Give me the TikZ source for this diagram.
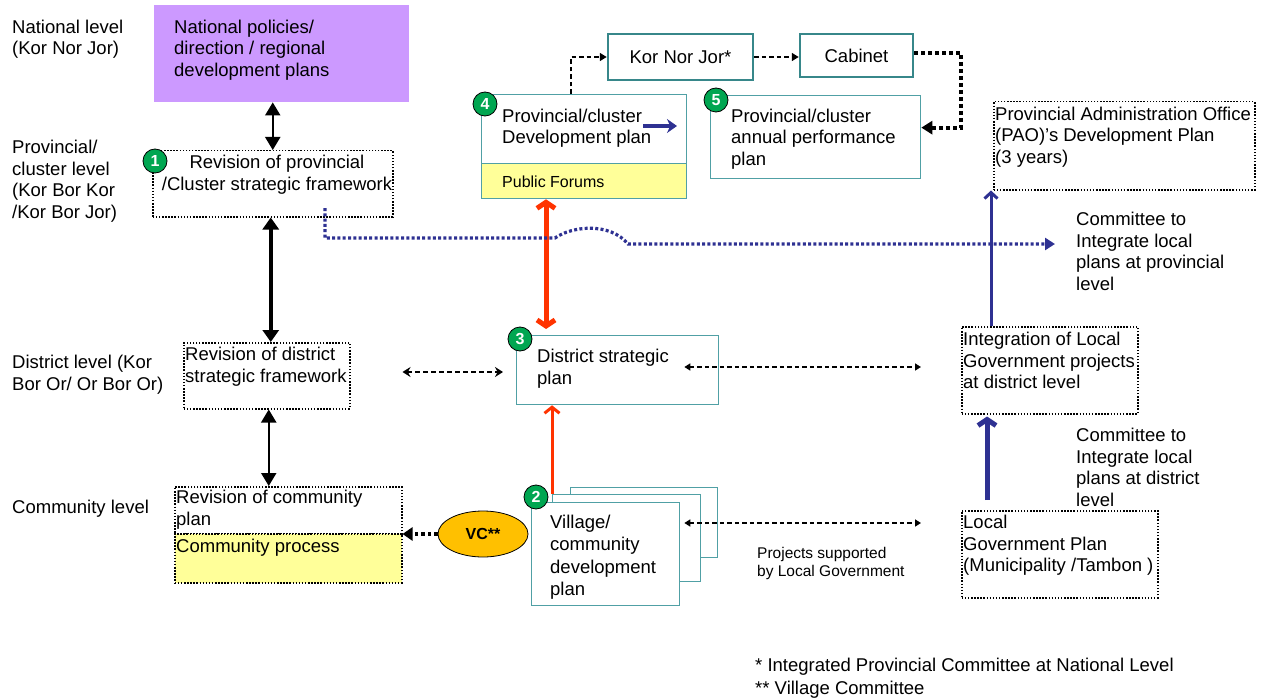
\documentclass[tikz,border=0pt]{standalone}
\usepackage{fontspec}
\setmainfont{Liberation Sans}
\usetikzlibrary{arrows.meta,shapes.geometric}
\definecolor{tealb}{RGB}{80,160,165}
\definecolor{tealdk}{RGB}{55,135,138}
\definecolor{navyb}{RGB}{46,49,146}
\definecolor{redo}{RGB}{255,51,0}
\definecolor{purp}{RGB}{204,153,255}
\definecolor{yel}{RGB}{255,255,153}
\definecolor{vcorange}{RGB}{255,192,0}
\definecolor{badgeg}{RGB}{0,166,81}
\begin{document}
\begin{tikzpicture}[x=1pt,y=-1pt,
 txt/.style={font=\fontsize{18.5}{21.5}\selectfont, inner sep=0pt, align=left, anchor=base west},
 smalltxt/.style={font=\fontsize{15.5}{18}\selectfont, inner sep=0pt, align=left, anchor=base west},
 dotbox/.style={draw=black, line width=1.5pt, dash pattern=on 1.5pt off 1.6pt, rectangle, inner sep=0pt, anchor=north west},
 tealbox/.style={draw=tealb, line width=1.3pt, rectangle, inner sep=0pt, anchor=north west},
 tealthick/.style={draw=tealdk, line width=2.5pt, rectangle, inner sep=0pt, font=\fontsize{18.5}{21.5}\selectfont},
 badge/.style={circle, fill=badgeg, draw=black, line width=0.8pt, minimum size=24pt, inner sep=0pt, text=white, font=\fontsize{16}{16}\selectfont\bfseries},
 blkdbl/.style={{Triangle[length=13pt,width=15pt]}-{Triangle[length=13pt,width=15pt]}, line width=2pt},
 dasharr/.style={{Stealth[length=8pt,width=10pt]}-{Stealth[length=8pt,width=10pt]}, line width=1.8pt, dash pattern=on 5pt off 3pt},
 dashthin/.style={{Triangle[length=6pt,width=7pt]}-{Triangle[length=6pt,width=7pt]}, line width=1.5pt, dash pattern=on 4.5pt off 3pt},
 dashone/.style={-{Triangle[length=7pt,width=8pt]}, line width=1.5pt, dash pattern=on 4.5pt off 3pt},
 redarr/.style={draw=redo, line width=3pt},
 bluedot/.style={draw=navyb, line width=3.2pt, dash pattern=on 3pt off 2.3pt, -{Triangle[length=10pt,width=12pt]}},
]
\useasboundingbox (0,0) rectangle (1264,698);

% level labels (anchor = baseline of last line)
\node[txt] (lnat) at (12,55) {National level\\(Kor Nor Jor)};
\node[txt] (lprov) at (12,218) {Provincial/\\cluster level\\(Kor Bor Kor\\/Kor Bor Jor)};
\node[txt] (ldist) at (12,390) {District level (Kor\\Bor Or/ Or Bor Or)};
\node[txt] (lcom) at (12,513.5) {Community level};

% national box
\node[rectangle, fill=purp, inner sep=0pt, anchor=north west, minimum width=255pt, minimum height=97pt] (nat) at (154,5) {};
\node[txt] (natt) at (174,76.5) {National policies/\\direction / regional\\development plans};

% provincial revision
\node[dotbox, minimum width=240pt, minimum height=66pt] (revprov) at (152,150) {};
\node[txt, align=center, anchor=base] (revprovt) at (277,190) {Revision of provincial\\/Cluster strategic framework};
\node[badge] (b1) at (155,161) {1};

% district revision
\node[dotbox, minimum width=166pt, minimum height=66pt] (revdist) at (183,342) {};
\node[txt] (revdistt) at (185,382) {Revision of district\\strategic framework};

% community revision
\node[dotbox, minimum width=227pt, minimum height=47pt] (revcom) at (174,486) {};
\node[dotbox, fill=yel, minimum width=227pt, minimum height=49pt] (revcomb) at (174,533) {};
\node[txt] (revcomt) at (176,525) {Revision of community\\plan};
\node[txt] (revcombt) at (176,552.5) {Community process};

% vertical black arrows
\draw[blkdbl] (nat.south -| revprov.north) -- (revprov.north);
\draw[{Triangle[length=12pt,width=16pt]}-{Triangle[length=12pt,width=16pt]}, line width=4.5pt] ([xshift=-2pt]revprov.south) -- ([xshift=-2pt]revprov.south |- revdist.north);
\draw[blkdbl] ([xshift=2pt]revdist.south) -- ([xshift=2pt]revdist.south |- revcom.north);

% VC
\node[ellipse, draw=black, line width=0.8pt, fill=vcorange, minimum width=90pt, minimum height=46pt, inner sep=0pt, font=\fontsize{16}{16}\selectfont\bfseries] (vc) at (483,534) {VC**};
\draw[line width=3.5pt, dash pattern=on 3.5pt off 3pt, -{Triangle[length=10pt,width=13pt]}] (vc.west) -- (vc.west -| revcomb.east);

% village stack
\node[tealbox, fill=white, minimum width=147pt, minimum height=70pt] (vback) at (570,487) {};
\node[tealbox, fill=white, minimum width=148pt, minimum height=87pt] (vmid) at (552,494) {};
\node[tealbox, fill=white, minimum width=148pt, minimum height=103pt] (vfront) at (531,502) {};
\node[txt, font=\fontsize{18.5}{22.3}\selectfont] (vfrontt) at (550,595.4) {Village/\\community\\development\\plan};

% district strategic plan
\node[tealbox, minimum width=202pt, minimum height=69pt] (dsp) at (516,335) {};
\node[txt] (dspt) at (537,384) {District strategic\\plan};

% box 4
\node[tealbox, minimum width=205pt, minimum height=69pt] (b4top) at (481,94) {};
\node[tealbox, fill=yel, minimum width=205pt, minimum height=35pt] (b4bot) at (481,163) {};
\node[txt] (b4t) at (502,144) {Provincial/cluster\\Development plan};
\node[txt, font=\fontsize{16}{18}\selectfont] (b4pf) at (502,187.5) {Public Forums};
\coordinate (ia) at (643,126);
\coordinate (ib) at (677,126);
\draw[draw=navyb, line width=3.2pt, -{Stealth[length=10pt,width=14pt]}] (ia) -- (ib);

% red arrows
\draw[redarr, -{Straight Barb[length=6pt,width=15pt]}] (vmid.north west) -- (vmid.north west |- dsp.south);
\coordinate (redx) at (546,0);
\draw[draw=redo, line width=5pt, {Straight Barb[length=6pt,width=18pt]}-{Straight Barb[length=6pt,width=18pt]}, shorten >=6pt] (b4bot.south -| redx) -- (dsp.north -| redx);

% Kor Nor Jor, cabinet, box 5
\node[tealthick, minimum width=145pt, minimum height=46pt] (knj) at (680.5,57) {Kor Nor Jor*};
\node[tealthick, minimum width=113pt, minimum height=43pt] (cab) at (856.5,55.5) {Cabinet};
\node[tealbox, minimum width=210pt, minimum height=83pt] (b5) at (710,95) {};
\node[txt] (b5t) at (731,165.5) {Provincial/cluster\\annual performance\\plan};
\node[badge] (b4) at (485,104) {4};
\node[badge] (b5b) at (716,100) {5};
\draw[dashone] ([xshift=90pt]b4top.north west) |- (knj.west);
\draw[dashone] (knj.east) -- (knj.east -| cab.west);
\draw[line width=4pt, dash pattern=on 4pt off 3pt, -{Triangle[length=11pt,width=13pt]}] ([yshift=2.5pt]cab.east) -- ++(47,0) |- ([yshift=9.5pt]b5.east);

% right column
\node[dotbox, minimum width=261pt, minimum height=88pt] (pao) at (993,101) {};
\node[txt] (paot) at (995,163.5) {Provincial Administration Office\\(PAO)'s Development Plan\\(3 years)};
\node[dotbox, minimum width=176pt, minimum height=87pt] (integ) at (961,326) {};
\node[txt] (integt) at (963,388.5) {Integration of Local\\Government projects\\at district level};
\node[dotbox, minimum width=196pt, minimum height=87pt] (lgp) at (961,510) {};
\node[txt] (lgpt) at (963,571.5) {Local\\Government Plan\\(Municipality /Tambon )};
\node[txt] (cprov) at (1076,290) {Committee to\\Integrate local\\plans at provincial\\level};
\node[txt] (cdist) at (1076,506) {Committee to\\Integrate local\\plans at district\\level};

\draw[draw=navyb, line width=5pt, shorten <=10pt, shorten >=2pt, -{Straight Barb[length=6pt,width=18pt]}] ([xshift=26pt]lgp.north west) -- ([xshift=26pt]lgp.north west |- integ.south);
\draw[draw=navyb, line width=3pt, -{Straight Barb[length=6pt,width=13pt]}] ([xshift=30pt]integ.north west) -- ([xshift=30pt]integ.north west |- pao.south);

% blue dotted
\coordinate (bd0) at (325,208);
\coordinate (bdend) at (1055,244);
\draw[bluedot] (bd0) -- (325,238) -- (555,238) .. controls (572,226) and (610,222) .. (628,244) -- (bdend);

% middle dashed arrows
\coordinate (y372) at (0,372);
\coordinate (y367) at (0,367);
\coordinate (y523) at (0,523);
\draw[dasharr] ([xshift=52pt]revdist.east |- y372) -- ([xshift=-13pt]dsp.west |- y372);
\draw[dashthin] ([xshift=-35pt]dsp.east |- y367) -- ([xshift=-40pt]integ.west |- y367);
\draw[dashthin] ([xshift=4pt]vfront.east |- y523) -- ([xshift=-40pt]lgp.west |- y523);

\node[smalltxt] (proj) at (757,576.5) {Projects supported\\by Local Government};

\node[badge] (b2) at (536,497) {2};
\node[badge] (b3) at (520,339) {3};

% footnotes
\node[txt, font=\fontsize{18.5}{23}\selectfont] (fn) at (755,694.5) {* Integrated Provincial Committee at National Level\\** Village Committee};
\end{tikzpicture}
\end{document}
